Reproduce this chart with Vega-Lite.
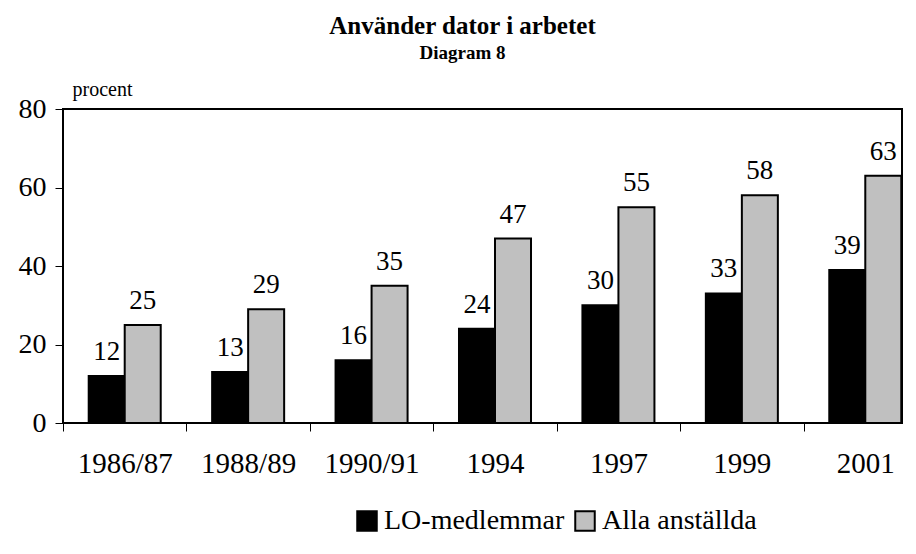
{
  "$schema": "https://vega.github.io/schema/vega-lite/v6.json",
  "width": 839,
  "height": 314,
  "autosize": "none",
  "padding": {"left": 63, "top": 109, "right": 14, "bottom": 131},
  "background": "white",
  "title": {
    "text": "Använder dator i arbetet",
    "subtitle": "Diagram 8",
    "anchor": "middle",
    "dx": -20,
    "offset": 16,
    "subtitlePadding": 5,
    "font": "Liberation Serif",
    "subtitleFont": "Liberation Serif"
  },
  "config": {
    "view": {"stroke": "black", "strokeWidth": 2},
    "font": "Liberation Serif",
    "title": {"fontSize": 25, "fontWeight": "bold", "color": "black",
      "subtitleFontSize": 19, "subtitleFontWeight": "bold", "subtitleColor": "black"},
    "axis": {"grid": false, "domain": false, "tickColor": "black", "labelColor": "black", "labelFont": "Liberation Serif"}
  },
  "data": {
    "values": [
      {"period": "1986/87", "series": "LO-medlemmar", "value": 12},
      {"period": "1986/87", "series": "Alla anställda", "value": 25},
      {"period": "1988/89", "series": "LO-medlemmar", "value": 13},
      {"period": "1988/89", "series": "Alla anställda", "value": 29},
      {"period": "1990/91", "series": "LO-medlemmar", "value": 16},
      {"period": "1990/91", "series": "Alla anställda", "value": 35},
      {"period": "1994", "series": "LO-medlemmar", "value": 24},
      {"period": "1994", "series": "Alla anställda", "value": 47},
      {"period": "1997", "series": "LO-medlemmar", "value": 30},
      {"period": "1997", "series": "Alla anställda", "value": 55},
      {"period": "1999", "series": "LO-medlemmar", "value": 33},
      {"period": "1999", "series": "Alla anställda", "value": 58},
      {"period": "2001", "series": "LO-medlemmar", "value": 39},
      {"period": "2001", "series": "Alla anställda", "value": 63}
    ]
  },
  "encoding": {
    "x": {
      "field": "period",
      "type": "nominal",
      "sort": ["1986/87", "1988/89", "1990/91", "1994", "1997", "1999", "2001"],
      "scale": {"range": [0, 864], "paddingInner": 0, "paddingOuter": 0},
      "axis": {"title": null, "labelAngle": 0, "labelFontSize": 29, "tickBand": "extent", "tickSize": 8, "labelPadding": 18}
    },
    "xOffset": {
      "field": "series",
      "type": "nominal",
      "sort": ["LO-medlemmar", "Alla anställda"],
      "scale": {"paddingInner": 0, "paddingOuter": 0.714}
    },
    "y": {
      "field": "value",
      "type": "quantitative",
      "scale": {"domain": [0, 80], "nice": false},
      "axis": {"title": "procent", "values": [0, 20, 40, 60, 80], "labelFontSize": 28, "tickSize": 8, "labelPadding": 9,
        "titleAngle": 0, "titleAlign": "left", "titleBaseline": "alphabetic", "titleX": 9, "titleY": -14,
        "titleFont": "Liberation Serif", "titleFontSize": 20, "titleFontWeight": "normal", "titleColor": "black"}
    }
  },
  "layer": [
    {
      "mark": {"type": "bar", "stroke": "black", "strokeWidth": 2},
      "encoding": {
        "color": {
          "field": "series",
          "type": "nominal",
          "sort": ["LO-medlemmar", "Alla anställda"],
          "scale": {"domain": ["LO-medlemmar", "Alla anställda"], "range": ["#000000", "#c0c0c0"]},
          "legend": {
            "title": null,
            "orient": "none",
            "legendX": 290,
            "legendY": 398,
            "direction": "horizontal",
            "symbolType": "square",
            "symbolSize": 380,
            "symbolStrokeColor": "black",
            "symbolStrokeWidth": 2,
            "symbolOpacity": 1,
            "labelFont": "Liberation Serif",
            "labelFontSize": 28,
            "labelColor": "black",
            "labelLimit": 0,
            "labelOffset": 3,
            "columnPadding": 6
          }
        }
      }
    },
    {
      "mark": {"type": "text", "baseline": "alphabetic", "dy": -16, "fontSize": 27, "color": "black", "font": "Liberation Serif"},
      "encoding": {"text": {"field": "value", "type": "quantitative"}}
    }
  ]
}
